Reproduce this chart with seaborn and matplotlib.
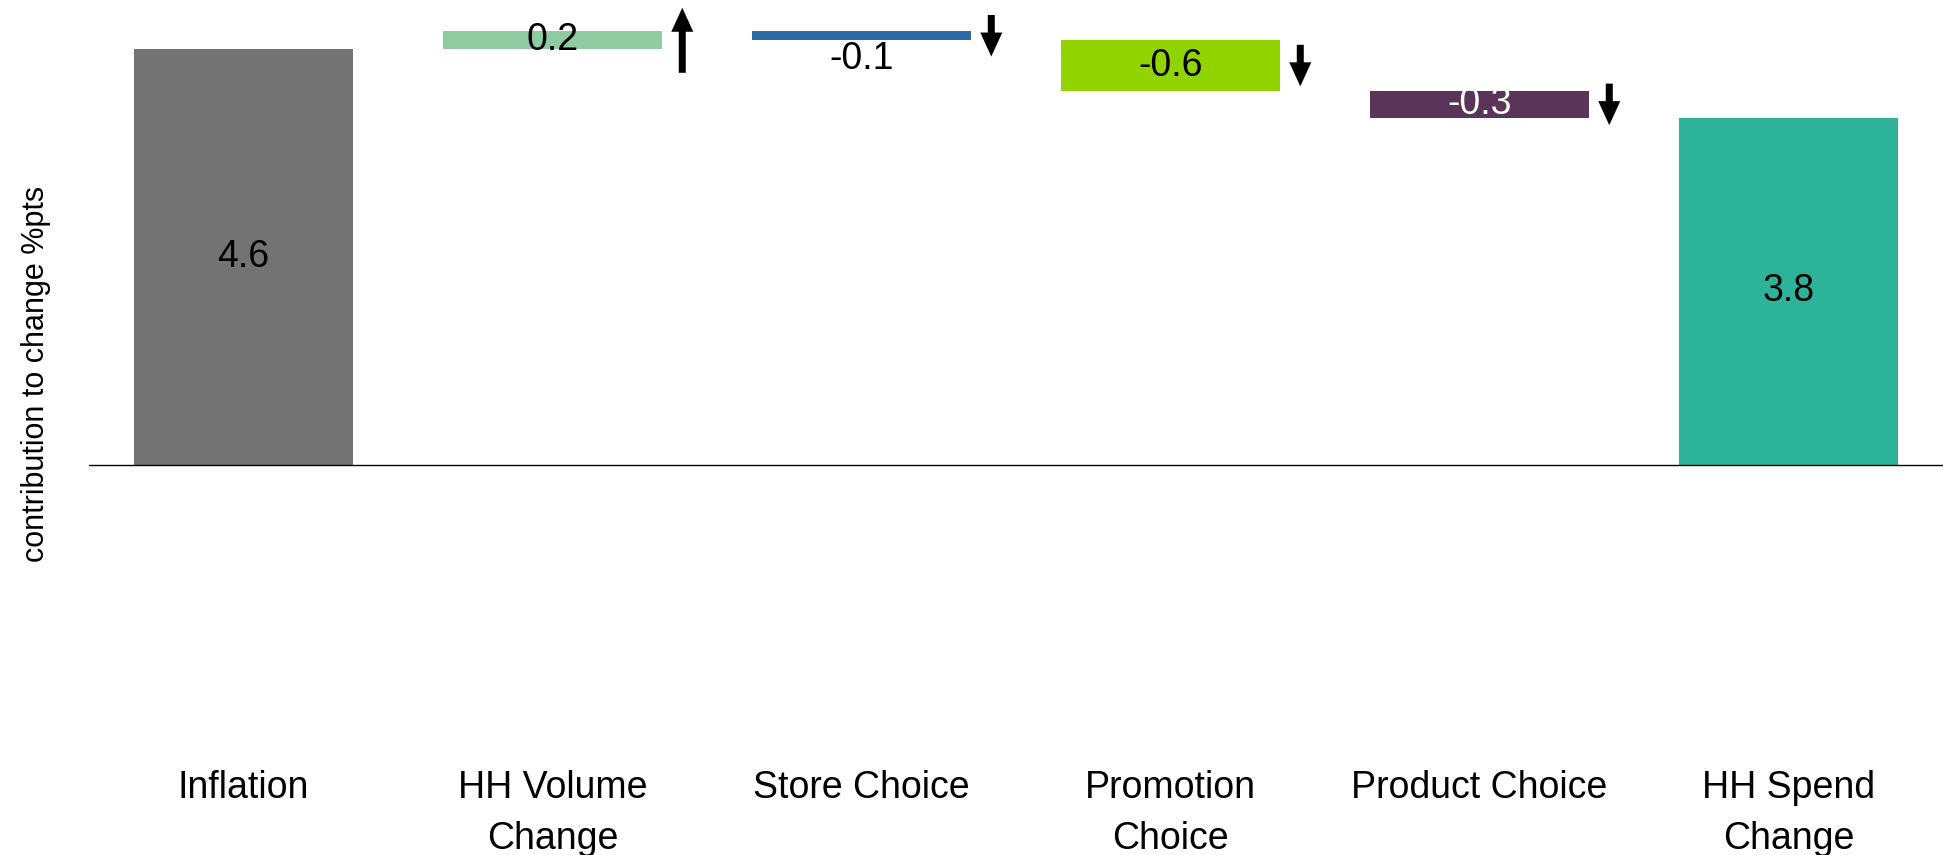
import numpy as np
import pandas as pd
import seaborn as sns
import matplotlib.pyplot as plt
from matplotlib.patches import FancyArrow

categories = ["Inflation", "HH Volume\nChange", "Store Choice",
              "Promotion\nChoice", "Product Choice", "HH Spend\nChange"]
# values; labels are shown rounded to 1 dp
changes = [4.60, 0.20, -0.10, -0.56, -0.30, 3.84]
is_total = [True, False, False, False, False, True]
colors = ["#737373", "#8FCBA0", "#2E6BA4", "#92D400", "#5B3559", "#2DB39A"]
label_colors = ["black", "black", "black", "black", "white", "black"]

# floating bars of the waterfall
bottoms, heights = [], []
level = 0.0
for v, tot in zip(changes, is_total):
    if tot:
        bottoms.append(0.0)
        heights.append(v)
        level = v
    else:
        bottoms.append(min(level, level + v))
        heights.append(abs(v))
        level += v

df = pd.DataFrame({"category": categories, "height": heights, "bottom": bottoms})

sns.set_style("white")
plt.rcParams["font.family"] = ["Liberation Sans", "DejaVu Sans"]

fig = plt.figure(figsize=(19.43, 8.55), dpi=100)
ax = fig.add_axes([89 / 1943, 1 - 745 / 855, 1 - 89 / 1943, 745 / 855])

sns.barplot(data=df, x="category", y="height", bottom=df["bottom"].values,
            order=categories, width=0.71, errorbar=None, ax=ax, linewidth=0,
            color=colors[0], saturation=1)
for patch, c in zip(ax.patches, colors):
    patch.set_facecolor(c)

px_x = (1943 - 89) / 6.0   # pixels per category
ax.set_xlim(-0.5, 5.5)
ax.set_ylim(-3.104, 5.146)
px_y = 745 / (5.146 + 3.104)

for i, (v, b, h) in enumerate(zip(changes, bottoms, heights)):
    y = b + h / 2
    if categories[i] == "Store Choice":
        y = b - 0.21
    ax.text(i, y, f"{v:.1f}", ha="center", va="center", fontsize=27,
            color=label_colors[i])
    if not is_total[i]:
        mid = b + h / 2
        length = 0.72 if v > 0 else 0.46
        xa = i + 0.42
        start = mid - length / 2 if v > 0 else mid + length / 2
        ax.add_patch(FancyArrow(xa, start, 0, length if v > 0 else -length,
                                width=7 / px_x, head_width=22 / px_x,
                                head_length=24 / px_y, length_includes_head=True,
                                color="black", lw=0))

ax.axhline(0, color="black", lw=1)
sns.despine(ax=ax, left=True, bottom=True)
ax.set_yticks([])
ax.set_xlabel("")
ax.set_ylabel("")
ax.tick_params(axis="x", length=0, pad=18, labelsize=27, labelcolor="black")
for t in ax.get_xticklabels():
    t.set_linespacing(1.55)
    t.set_va("top")

fig.text(36 / 1943, 1 - 374 / 855, "contribution to change %pts", rotation=90,
         ha="center", va="center", fontsize=22, color="black")

fig.savefig("out.png", dpi=100)
